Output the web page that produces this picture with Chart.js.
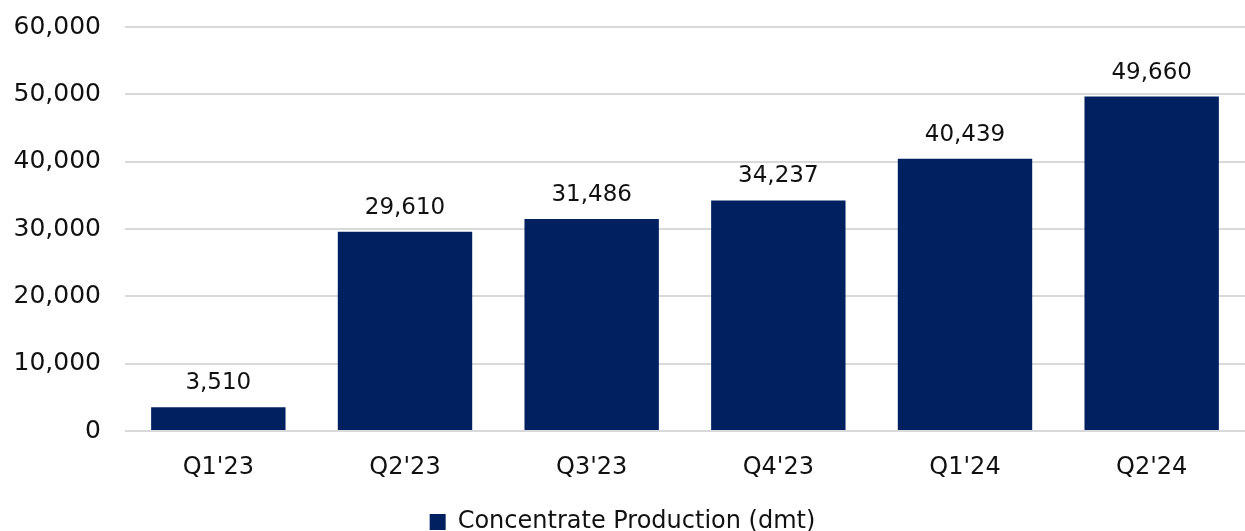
<!DOCTYPE html>
<html>
<head>
<meta charset="utf-8">
<script src="https://cdn.jsdelivr.net/npm/chart.js@4/dist/chart.umd.min.js"></script>
<style>
  html, body { margin: 0; padding: 0; background: #fff; overflow: hidden; }
  #wrap { width: 1245px; height: 556px; margin-top: -12px; }
</style>
</head>
<body>
<div id="wrap"><canvas id="grafico" width="1245" height="556"></canvas></div>
<script>
// dados do gráfico
const trimestres = ["Q1'23", "Q2'23", "Q3'23", "Q4'23", "Q1'24", "Q2'24"];
const producao = [3510, 29610, 31486, 34237, 40439, 49660];
const nomeSerie = 'Concentrate Production (dmt)';

const fonte = '"DejaVu Sans", sans-serif';
const corTexto = '#111111';

// rótulos em cima das barras
const rotulosBarras = {
  id: 'rotulosBarras',
  afterDatasetsDraw(chart) {
    const ctx = chart.ctx;
    const meta = chart.getDatasetMeta(0);
    ctx.save();
    ctx.font = '23px ' + fonte;
    ctx.fillStyle = corTexto;
    ctx.textAlign = 'center';
    ctx.textBaseline = 'alphabetic';
    meta.data.forEach((barra, i) => {
      ctx.fillText(producao[i].toLocaleString('en-US'), barra.x, barra.y - 18);
    });
    ctx.restore();
  }
};

new Chart(document.getElementById('grafico'), {
  type: 'bar',
  data: {
    labels: trimestres,
    datasets: [{
      label: nomeSerie,
      data: producao,
      backgroundColor: '#002060',
      categoryPercentage: 0.72,
      barPercentage: 1
    }]
  },
  options: {
    responsive: false,
    animation: false,
    devicePixelRatio: 1,
    layout: { padding: { top: 1, right: 0, left: 0, bottom: 0 } },
    scales: {
      y: {
        min: 0,
        max: 60000,
        ticks: {
          stepSize: 10000,
          padding: 24,
          color: corTexto,
          font: { size: 25, family: fonte },
          callback: v => v.toLocaleString('en-US')
        },
        grid: { color: '#d9d9d9', lineWidth: 2, drawTicks: false },
        border: { display: false },
        afterFit: s => { s.width = 125; }
      },
      x: {
        ticks: {
          padding: 14,
          color: corTexto,
          font: { size: 24, family: fonte }
        },
        grid: { display: false },
        border: { display: false },
        afterFit: s => { s.height = 66; }
      }
    },
    plugins: {
      legend: {
        position: 'bottom',
        labels: {
          color: corTexto,
          font: { size: 24, family: fonte },
          boxWidth: 16,
          boxHeight: 16,
          padding: 13
        }
      },
      tooltip: { enabled: false }
    }
  },
  plugins: [rotulosBarras]
});
</script>
</body>
</html>
